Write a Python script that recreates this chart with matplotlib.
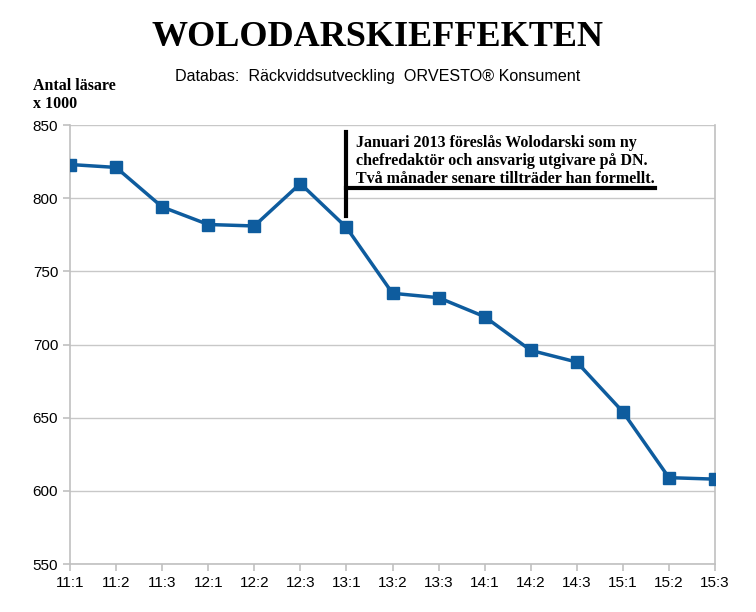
import matplotlib
matplotlib.use("Agg")
import matplotlib.pyplot as plt

categories = ["11:1", "11:2", "11:3", "12:1", "12:2", "12:3", "13:1", "13:2",
              "13:3", "14:1", "14:2", "14:3", "15:1", "15:2", "15:3"]
readers = [823, 821, 794, 782, 781, 810, 780, 735, 732, 719, 696, 688, 654, 609, 608]
y_ticks = [550, 600, 650, 700, 750, 800, 850]

title = "WOLODARSKIEFFEKTEN"
subtitle = "Databas:  Räckviddsutveckling  ORVESTO® Konsument"
ylabel = "Antal läsare\nx 1000"
note = ("Januari 2013 föreslås Wolodarski som ny\n"
        "chefredaktör och ansvarig utgivare på DN.\n"
        "Två månader senare tillträder han formellt.")

fig = plt.figure(figsize=(7.56, 6.12), dpi=100)
ax = fig.add_axes([70/756, 1-564/612, 645/756, 439/612])

x = list(range(len(categories)))
ax.plot(x, readers, color="#0e5c9e", lw=2.5, marker="s", ms=8,
        markerfacecolor="#0e5c9e", markeredgecolor="#0e5c9e", zorder=3)

ax.set_xlim(0, len(categories) - 1)
ax.set_ylim(550, 850)
ax.set_yticks(y_ticks)
ax.set_xticks(x)
ax.set_xticklabels(categories)
ax.grid(axis="y", color="#c8c8c8", lw=1)
ax.set_axisbelow(True)
for s in ["left", "bottom", "right"]:
    ax.spines[s].set_color("#c0c0c0")
    ax.spines[s].set_linewidth(1.2)
ax.spines["top"].set_visible(False)
ax.tick_params(axis="both", colors="#c0c0c0", labelcolor="black",
               labelsize=11, length=5, width=1.2)
for lab in ax.get_xticklabels() + ax.get_yticklabels():
    lab.set_fontfamily("Liberation Sans")

fig.text(0.5, 1-37/612, title, ha="center", va="center",
         fontfamily="Liberation Serif", fontweight="bold", fontsize=26)
fig.text(0.5, 1-77/612, subtitle, ha="center", va="center",
         fontfamily="Liberation Sans", fontsize=11.6)
fig.text(33/756, 1-95/612, ylabel, ha="left", va="center",
         fontfamily="Liberation Serif", fontweight="bold", fontsize=11.5,
         linespacing=1.25)

# annotation lines
ax.plot([6, 6], [845, 788], color="black", lw=3, clip_on=False, zorder=4)
ax.plot([6, 12.7], [807, 807], color="black", lw=3, clip_on=False, zorder=4)
ax.text(6.2, 843.5, note, ha="left", va="top", fontfamily="Liberation Serif",
        fontweight="bold", fontsize=11.5, linespacing=1.2, zorder=5)

fig.savefig("out.png", dpi=100)
